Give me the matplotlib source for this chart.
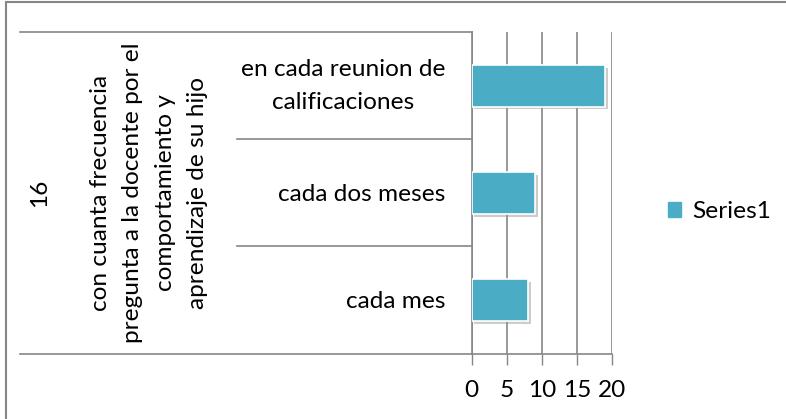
import matplotlib
matplotlib.use("Agg")
import matplotlib.pyplot as plt
from matplotlib.lines import Line2D
from matplotlib.patches import Rectangle
import matplotlib.patheffects as pe

# ---- data ----
categories = ["cada mes", "cada dos meses", "en cada reunion de\ncalificaciones"]
values = [8, 9, 19]
series_name = "Series1"
group_label = "con cuanta frecuencia\npregunta a la docente por el\ncomportamiento y\naprendizaje de su hijo"
outer_label = "16"
xticks = [0, 5, 10, 15, 20]

W, H = 786, 419
plt.rcParams['font.family'] = ['Lato', 'DejaVu Sans']
FS = 17.6
GRAY = "#868686"
BAR = "#4BACC6"

fig = plt.figure(figsize=(W / 100, H / 100), dpi=100)

def fx(px):
    return px / W

def fy(py):
    return 1 - py / H

L, R, T, B = 471.7, 612.3, 32.3, 353.5
ax = fig.add_axes([fx(L), fy(B), fx(R) - fx(L), fy(T) - fy(B)])

ypos = list(range(len(categories)))
bars = ax.barh(ypos, values, height=0.39, color=BAR, edgecolor="white", linewidth=1.2, zorder=3)
for b in bars:
    b.set_path_effects([pe.SimplePatchShadow(offset=(2, -2), shadow_rgbFace="#9a9a9a", alpha=0.5), pe.Normal()])

ax.set_xlim(0, 20)
ax.set_ylim(-0.5, len(categories) - 0.5)
ax.set_xticks(xticks)
ax.set_xticklabels([str(t) for t in xticks], fontsize=FS)
ax.tick_params(axis='x', direction='out', length=8, width=1, color=GRAY, pad=11)
ax.set_yticks(ypos)
ax.set_yticklabels(categories, fontsize=FS, multialignment='center', linespacing=1.72)
for lab in ax.get_yticklabels():
    if "\n" in lab.get_text():
        lab.set_va('center')
ax.tick_params(axis='y', length=0, pad=19)
ax.xaxis.grid(True, color=GRAY, linewidth=1.2, zorder=0)
ax.set_axisbelow(True)
for s in ["top", "right"]:
    ax.spines[s].set_visible(False)
for s in ["left", "bottom"]:
    ax.spines[s].set_color(GRAY)
    ax.spines[s].set_linewidth(1.2)

# multi-level category axis lines (figure coords)
def hline(x0, x1, y):
    fig.add_artist(Line2D([fx(x0), fx(x1)], [fy(y), fy(y)], color=GRAY, linewidth=1.2, transform=fig.transFigure))

hline(20, L, T)
hline(20, L, B)
step = (B - T) / len(categories)
for i in range(1, len(categories)):
    hline(237, L, T + i * step)

mid = (T + B) / 2
fig.text(fx(40), fy(mid), outer_label, rotation=90, ha='center', va='center', fontsize=FS)
fig.text(fx(149), fy(mid), group_label, rotation=90, ha='center', va='center', fontsize=FS,
         multialignment='center', linespacing=1.68)

# legend
ax.legend([Rectangle((0, 0), 1, 1, color=BAR)], [series_name], loc='center left',
          bbox_to_anchor=(fx(668), fy(212)), bbox_transform=fig.transFigure, frameon=False,
          fontsize=FS, handlelength=0.55, handleheight=0.55, handletextpad=0.45,
          borderpad=0, borderaxespad=0)

# chart border (cropped at right/bottom)
fig.add_artist(Rectangle((fx(6.5), -0.05), 1.1, fy(2.5) + 0.05, fill=False, edgecolor=GRAY,
                         linewidth=1.5, transform=fig.transFigure))

fig.savefig("out.png", dpi=100)
